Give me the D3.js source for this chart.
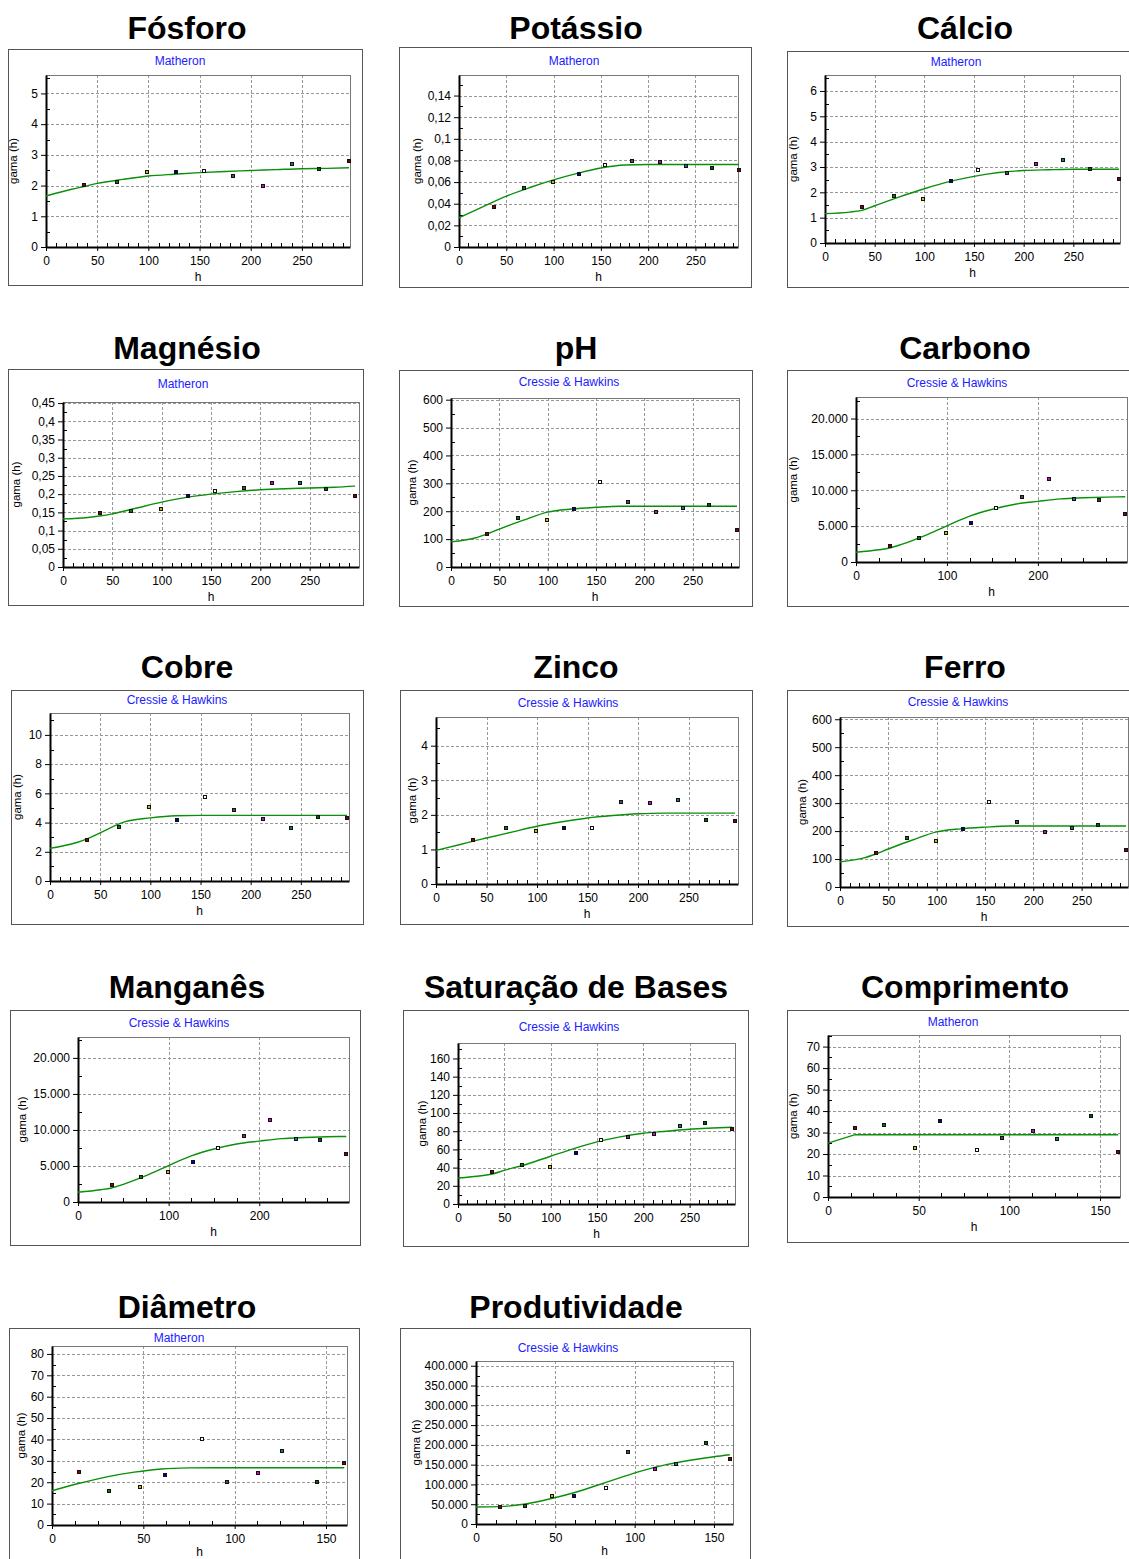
<!DOCTYPE html>
<head>
    <meta charset="utf-8">
    <title>Semivariogramas</title>
    <style>
        body { margin: 0; background: #fff; }
        svg { display: block; }
        text { font-family: "Liberation Sans", Arial, sans-serif; }
        text.title { font-size: 32px; font-weight: bold; }
        text.method { font-size: 12px; fill: #2020ff; }
        text.axlab { font-size: 12px; }
        text.gama { font-size: 11.5px; }
    </style>
    <script src="https://cdn.jsdelivr.net/npm/d3@7"></script>
</head>
<body>
<script>
    // distancias (h) dos pontos do semivariograma
    var lagsLong = [37, 69, 99, 127, 154, 183, 212, 240, 267, 296];
    var lagsShort = [15, 31, 48, 62, 82, 96, 113, 126, 145, 160];
    // h onde a curva do modelo foi lida
    var modelHLong = [0, 25, 37, 50, 75, 100, 125, 150, 175, 200, 225, 250, 275, 296];
    var modelHShort = [0, 15, 30, 45, 60, 75, 90, 105, 120, 135, 150, 160];

    var xTicksLong = [0, 50, 100, 150, 200, 250];
    var xTicksWide = [0, 100, 200];
    var xTicksShort = [0, 50, 100, 150];

    var titles = ["Fósforo", "Potássio", "Cálcio", "Magnésio", "pH", "Carbono", "Cobre", "Zinco", "Ferro",
        "Manganês", "Saturação de Bases", "Comprimento", "Diâmetro", "Produtividade"];
    var methods = ["Matheron", "Matheron", "Matheron", "Matheron", "Cressie & Hawkins", "Cressie & Hawkins",
        "Cressie & Hawkins", "Cressie & Hawkins", "Cressie & Hawkins", "Cressie & Hawkins", "Cressie & Hawkins",
        "Matheron", "Matheron", "Cressie & Hawkins"];

    var fosforoGama = [2.02, 2.11, 2.45, 2.45, 2.49, 2.31, 2.0, 2.69, 2.53, 2.80];
    var fosforoModelo = [1.66, 1.88, 1.97, 2.07, 2.2, 2.31, 2.37, 2.42, 2.46, 2.49, 2.52, 2.55, 2.56, 2.58];
    var fosforoYTicks = [0, 1, 2, 3, 4, 5];

    var potassioGama = [0.037, 0.0547, 0.0603, 0.0674, 0.076, 0.0794, 0.0782, 0.0748, 0.073, 0.0708];
    var potassioModelo = [0.027, 0.037, 0.042, 0.047, 0.055, 0.062, 0.068, 0.073, 0.0758, 0.0762, 0.0762, 0.0762, 0.0762, 0.0762];
    var potassioYTicks = [0, 0.02, 0.04, 0.06, 0.08, 0.1, 0.12, 0.14];

    var calcioGama = [1.42, 1.84, 1.73, 2.43, 2.87, 2.78, 3.11, 3.28, 2.92, 2.51];
    var calcioModelo = [1.16, 1.22, 1.29, 1.47, 1.82, 2.14, 2.42, 2.63, 2.78, 2.86, 2.89, 2.91, 2.91, 2.91];
    var calcioYTicks = [0, 1, 2, 3, 4, 5, 6];

    var magnesioGama = [0.148, 0.153, 0.160, 0.194, 0.2085, 0.216, 0.231, 0.231, 0.215, 0.196];
    var magnesioModelo = [0.132, 0.136, 0.140, 0.146, 0.162, 0.178, 0.191, 0.200, 0.207, 0.212, 0.215, 0.217, 0.219, 0.222];
    var magnesioYTicks = [0, 0.05, 0.1, 0.15, 0.2, 0.25, 0.3, 0.35, 0.4, 0.45];

    var phGama = [120, 175, 168, 208, 305, 234, 197, 212, 222, 133];
    var phModelo = [90, 104, 118, 136, 168, 197, 208, 214, 218, 218, 218, 218, 218, 218];
    var phYTicks = [0, 100, 200, 300, 400, 500, 600];

    var carbonoGama = [2280, 3360, 4100, 5410, 7550, 9090, 11510, 8720, 8630, 6670];
    var carbonoModelo = [1350, 1700, 1950, 2450, 3650, 5050, 6400, 7350, 8050, 8450, 8800, 8950, 9050, 9100];
    var carbonoYTicks = [0, 5000, 10000, 15000, 20000];

    var cobreGama = [2.79, 3.69, 5.05, 4.17, 5.74, 4.88, 4.26, 3.62, 4.38, 4.33];
    var cobreModelo = [2.24, 2.6, 2.88, 3.3, 4.06, 4.32, 4.47, 4.49, 4.49, 4.49, 4.49, 4.49, 4.49, 4.49];
    var cobreYTicks = [0, 2, 4, 6, 8, 10];

    var zincoGama = [1.26, 1.62, 1.52, 1.62, 1.62, 2.38, 2.35, 2.42, 1.85, 1.82];
    var zincoModelo = [0.97, 1.15, 1.24, 1.33, 1.5, 1.67, 1.8, 1.91, 1.98, 2.03, 2.05, 2.05, 2.05, 2.05];
    var zincoYTicks = [0, 1, 2, 3, 4];

    var ferroGama = [121, 174, 166, 207, 304, 234, 195, 212, 222, 133];
    var ferroModelo = [90, 104, 118, 136, 168, 197, 208, 214, 218, 218, 218, 218, 218, 218];
    var ferroYTicks = [0, 100, 200, 300, 400, 500, 600];

    var manganesGama = [2315, 3470, 4170, 5510, 7500, 9120, 11440, 8750, 8660, 6710];
    var manganesModelo = [1350, 1700, 1950, 2450, 3650, 5050, 6400, 7350, 8050, 8450, 8800, 8950, 9050, 9100];
    var manganesYTicks = [0, 5000, 10000, 15000, 20000];

    var saturacaoGama = [35.2, 42.6, 41.1, 56.1, 70.8, 73.4, 77.1, 85.5, 89.2, 82.9];
    var saturacaoModelo = [28.6, 31, 33, 37, 44, 52.5, 60.9, 68.3, 73.8, 77.8, 80, 82.2, 83.5, 84.4];
    var saturacaoYTicks = [0, 20, 40, 60, 80, 100, 120, 140, 160];

    var comprimentoGama = [32.1, 33.6, 22.8, 35.2, 21.7, 27.4, 30.9, 26.9, 37.8, 20.8];
    var comprimentoModelo = [25.1, 29, 29, 29, 29, 29, 29, 29, 29, 29, 29, 29];
    var comprimentoYTicks = [0, 10, 20, 30, 40, 50, 60, 70];

    var diametroGama = [25, 16, 18, 23.5, 40, 20, 24.5, 34.5, 20, 29];
    var diametroModelo = [16, 19.5, 22.5, 24.7, 26.2, 26.7, 26.8, 26.8, 26.8, 26.8, 26.8, 26.8];
    var diametroYTicks = [0, 10, 20, 30, 40, 50, 60, 70, 80];

    var produtividadeGama = [43000, 45600, 70900, 70900, 91100, 182000, 139000, 152000, 205000, 165000];
    var produtividadeModelo = [43000, 44000, 50000, 62000, 77000, 96000, 116000, 135000, 150000, 161000, 170000, 175000];
    var produtividadeYTicks = [0, 50000, 100000, 150000, 200000, 250000, 300000, 350000, 400000];

    // fim do eixo x e do eixo y de cada grafico
    var xMaxes = [297, 295, 297, 300, 298, 298, 298, 299, 298, 299, 299, 161, 161.5, 162];
    var yMaxes = [5.6, 0.159, 6.63, 0.453, 606, 23000, 11.5, 4.83, 608, 22900, 177, 75.4, 83.7, 412000];

    var panels = [
        { lags: lagsLong, gama: fosforoGama, mh: modelHLong, modelo: fosforoModelo, xt: xTicksLong, xm: 10, yt: fosforoYTicks },
        { lags: lagsLong, gama: potassioGama, mh: modelHLong, modelo: potassioModelo, xt: xTicksLong, xm: 10, yt: potassioYTicks },
        { lags: lagsLong, gama: calcioGama, mh: modelHLong, modelo: calcioModelo, xt: xTicksLong, xm: 10, yt: calcioYTicks },
        { lags: lagsLong, gama: magnesioGama, mh: modelHLong, modelo: magnesioModelo, xt: xTicksLong, xm: 10, yt: magnesioYTicks },
        { lags: lagsLong, gama: phGama, mh: modelHLong, modelo: phModelo, xt: xTicksLong, xm: 10, yt: phYTicks },
        { lags: lagsLong, gama: carbonoGama, mh: modelHLong, modelo: carbonoModelo, xt: xTicksWide, xm: 25, yt: carbonoYTicks },
        { lags: lagsLong, gama: cobreGama, mh: modelHLong, modelo: cobreModelo, xt: xTicksLong, xm: 10, yt: cobreYTicks },
        { lags: lagsLong, gama: zincoGama, mh: modelHLong, modelo: zincoModelo, xt: xTicksLong, xm: 10, yt: zincoYTicks },
        { lags: lagsLong, gama: ferroGama, mh: modelHLong, modelo: ferroModelo, xt: xTicksLong, xm: 10, yt: ferroYTicks },
        { lags: lagsLong, gama: manganesGama, mh: modelHLong, modelo: manganesModelo, xt: xTicksWide, xm: 25, yt: manganesYTicks },
        { lags: lagsLong, gama: saturacaoGama, mh: modelHLong, modelo: saturacaoModelo, xt: xTicksLong, xm: 10, yt: saturacaoYTicks },
        { lags: lagsShort, gama: comprimentoGama, mh: modelHShort, modelo: comprimentoModelo, xt: xTicksShort, xm: 12.5, yt: comprimentoYTicks, reta: true },
        { lags: lagsShort, gama: diametroGama, mh: modelHShort, modelo: diametroModelo, xt: xTicksShort, xm: 12.5, yt: diametroYTicks },
        { lags: lagsShort, gama: produtividadeGama, mh: modelHShort, modelo: produtividadeModelo, xt: xTicksShort, xm: 12.5, yt: produtividadeYTicks }
    ];

    // posicao de cada quadro: caixa, area do grafico, rotulos
    var layout = [
        { x: 8, y: 49, w: 354, h: 236, l: 46, t: 75, r: 350, b: 247, mx: 180, my: 65, tx: 187, ty: 39, gx: 17, hy: 34 },
        { x: 399, y: 47, w: 352, h: 240, l: 459, t: 75, r: 738, b: 247, mx: 574, my: 65, tx: 576, ty: 39, gx: 421, hy: 34 },
        { x: 787, y: 51, w: 346, h: 236, l: 825, t: 75, r: 1120, b: 243, mx: 956, my: 66, tx: 965, ty: 39, gx: 797, hy: 34 },
        { x: 8, y: 369, w: 355, h: 236, l: 63, t: 402, r: 359, b: 567, mx: 183, my: 388, tx: 187, ty: 359, gx: 20, hy: 34 },
        { x: 399, y: 370, w: 353, h: 236, l: 451, t: 398, r: 739, b: 567, mx: 569, my: 386, tx: 576, ty: 359, gx: 416, hy: 34 },
        { x: 787, y: 370, w: 346, h: 236, l: 856, t: 397, r: 1127, b: 562, mx: 957, my: 387, tx: 965, ty: 359, gx: 797, hy: 34 },
        { x: 11, y: 690, w: 352, h: 234, l: 50, t: 713, r: 349, b: 881, mx: 177, my: 704, tx: 187, ty: 678, gx: 21, hy: 34 },
        { x: 400, y: 690, w: 352, h: 234, l: 436, t: 717, r: 738, b: 884, mx: 568, my: 707, tx: 576, ty: 678, gx: 416, hy: 34 },
        { x: 787, y: 690, w: 346, h: 236, l: 840, t: 717, r: 1128, b: 887, mx: 958, my: 706, tx: 965, ty: 678, gx: 806, hy: 34 },
        { x: 10, y: 1010, w: 350, h: 235, l: 78, t: 1037, r: 349, b: 1202, mx: 179, my: 1027, tx: 187, ty: 998, gx: 26, hy: 34 },
        { x: 403, y: 1010, w: 345, h: 236, l: 458, t: 1043, r: 735, b: 1204, mx: 569, my: 1031, tx: 576, ty: 998, gx: 426, hy: 34 },
        { x: 787, y: 1010, w: 346, h: 232, l: 828, t: 1035, r: 1120, b: 1197, mx: 953, my: 1026, tx: 965, ty: 998, gx: 797, hy: 34 },
        { x: 9, y: 1328, w: 350, h: 240, l: 52, t: 1346, r: 347, b: 1525, mx: 179, my: 1342, tx: 187, ty: 1318, gx: 25, hy: 31 },
        { x: 400, y: 1328, w: 350, h: 240, l: 476, t: 1361, r: 733, b: 1524, mx: 568, my: 1352, tx: 576, ty: 1318, gx: 420, hy: 31 }
    ];

    // cores do miolo de cada ponto
    var pointColors = ["#900000", "#008000", "#c8c000", "#0000a0", "#ffffff", "#505050", "#d000d0", "#008080", "#006000", "#800000"];

    var pt = d3.formatLocale({ decimal: ",", thousands: ".", grouping: [3], currency: ["R$", ""] });
    var fmt = pt.format(",~g");

    var svg = d3.select("body")
        .append("svg")
        .attr("width", 1129)
        .attr("height", 1559);

    panels.forEach(function (p, i) {
        var L = layout[i];
        var g = svg.append("g").attr("class", "panel");

        g.append("text")
            .attr("class", "title")
            .attr("x", L.tx)
            .attr("y", L.ty)
            .attr("text-anchor", "middle")
            .text(titles[i]);

        g.append("rect")
            .attr("x", L.x + 0.5)
            .attr("y", L.y + 0.5)
            .attr("width", L.w)
            .attr("height", L.h)
            .attr("fill", "#fff")
            .attr("stroke", "#555");

        g.append("text")
            .attr("class", "method")
            .attr("x", L.mx)
            .attr("y", L.my)
            .attr("text-anchor", "middle")
            .text(methods[i]);

        var x = d3.scaleLinear().domain([0, xMaxes[i]]).range([L.l, L.r]);
        var y = d3.scaleLinear().domain([0, yMaxes[i]]).range([L.b, L.t]);

        // grade tracejada
        var grid = g.append("g")
            .attr("stroke", "#999")
            .attr("stroke-dasharray", "3,2")
            .attr("shape-rendering", "crispEdges");
        grid.selectAll("line.vx")
            .data(p.xt.filter(function (d) { return d > 0; }))
            .enter().append("line")
            .attr("x1", function (d) { return Math.round(x(d)) + 0.5; })
            .attr("x2", function (d) { return Math.round(x(d)) + 0.5; })
            .attr("y1", L.t)
            .attr("y2", L.b);
        grid.selectAll("line.hy")
            .data(p.yt.filter(function (d) { return d > 0; }))
            .enter().append("line")
            .attr("y1", function (d) { return Math.round(y(d)) + 0.5; })
            .attr("y2", function (d) { return Math.round(y(d)) + 0.5; })
            .attr("x1", L.l)
            .attr("x2", L.r);

        // borda de cima e da direita
        g.append("path")
            .attr("d", "M" + L.l + "," + (L.t + 0.5) + "H" + (L.r + 0.5) + "V" + L.b)
            .attr("fill", "none")
            .attr("stroke", "#777")
            .attr("shape-rendering", "crispEdges");

        // ticks menores
        var minorX = d3.range(p.xm, xMaxes[i], p.xm).filter(function (d) { return p.xt.indexOf(d) < 0; });
        g.append("g").attr("stroke", "#000").attr("shape-rendering", "crispEdges")
            .selectAll("line")
            .data(minorX)
            .enter().append("line")
            .attr("x1", function (d) { return Math.round(x(d)) + 0.5; })
            .attr("x2", function (d) { return Math.round(x(d)) + 0.5; })
            .attr("y1", L.b)
            .attr("y2", L.b - 4);
        var ystep = p.yt[1] - p.yt[0];
        var minorY = p.yt.map(function (d) { return d + ystep / 2; }).filter(function (d) { return d < yMaxes[i]; });
        g.append("g").attr("stroke", "#000").attr("shape-rendering", "crispEdges")
            .selectAll("line")
            .data(minorY)
            .enter().append("line")
            .attr("y1", function (d) { return Math.round(y(d)) + 0.5; })
            .attr("y2", function (d) { return Math.round(y(d)) + 0.5; })
            .attr("x1", L.l)
            .attr("x2", L.l + 4);

        var xAxis = g.append("g")
            .attr("transform", "translate(0," + L.b + ")")
            .call(d3.axisBottom(x).tickValues(p.xt).tickFormat(fmt).tickSizeInner(4).tickSizeOuter(0).tickPadding(5));
        var yAxis = g.append("g")
            .attr("transform", "translate(" + L.l + ",0)")
            .call(d3.axisLeft(y).tickValues(p.yt).tickFormat(fmt).tickSizeInner(5).tickSizeOuter(0).tickPadding(3));
        [xAxis, yAxis].forEach(function (a) {
            a.attr("font-size", 12).attr("font-family", "'Liberation Sans', Arial, sans-serif");
            a.select(".domain").attr("stroke-width", 2);
        });

        g.append("text")
            .attr("class", "axlab")
            .attr("x", (L.l + L.r) / 2)
            .attr("y", L.b + L.hy)
            .attr("text-anchor", "middle")
            .text("h");

        g.append("text")
            .attr("class", "gama")
            .attr("transform", "translate(" + L.gx + "," + ((L.t + L.b) / 2) + ") rotate(-90)")
            .attr("text-anchor", "middle")
            .text("gama (h)");

        // curva do modelo ajustado
        var line = d3.line()
            .x(function (d) { return x(d[0]); })
            .y(function (d) { return y(d[1]); })
            .curve(p.reta ? d3.curveLinear : d3.curveMonotoneX);
        g.append("path")
            .datum(d3.zip(p.mh, p.modelo))
            .attr("d", line)
            .attr("fill", "none")
            .attr("stroke", "#0a8f0a")
            .attr("stroke-width", 1.4);

        // semivariancias experimentais
        g.append("g")
            .selectAll("rect")
            .data(d3.zip(p.lags, p.gama))
            .enter().append("rect")
            .attr("x", function (d) { return Math.round(x(d[0])) - 1.5; })
            .attr("y", function (d) { return Math.round(y(d[1])) - 1.5; })
            .attr("width", 3)
            .attr("height", 3)
            .attr("fill", function (d, k) { return pointColors[k]; })
            .attr("stroke", "#111")
            .attr("stroke-width", 1);
    });
</script>
</body>
